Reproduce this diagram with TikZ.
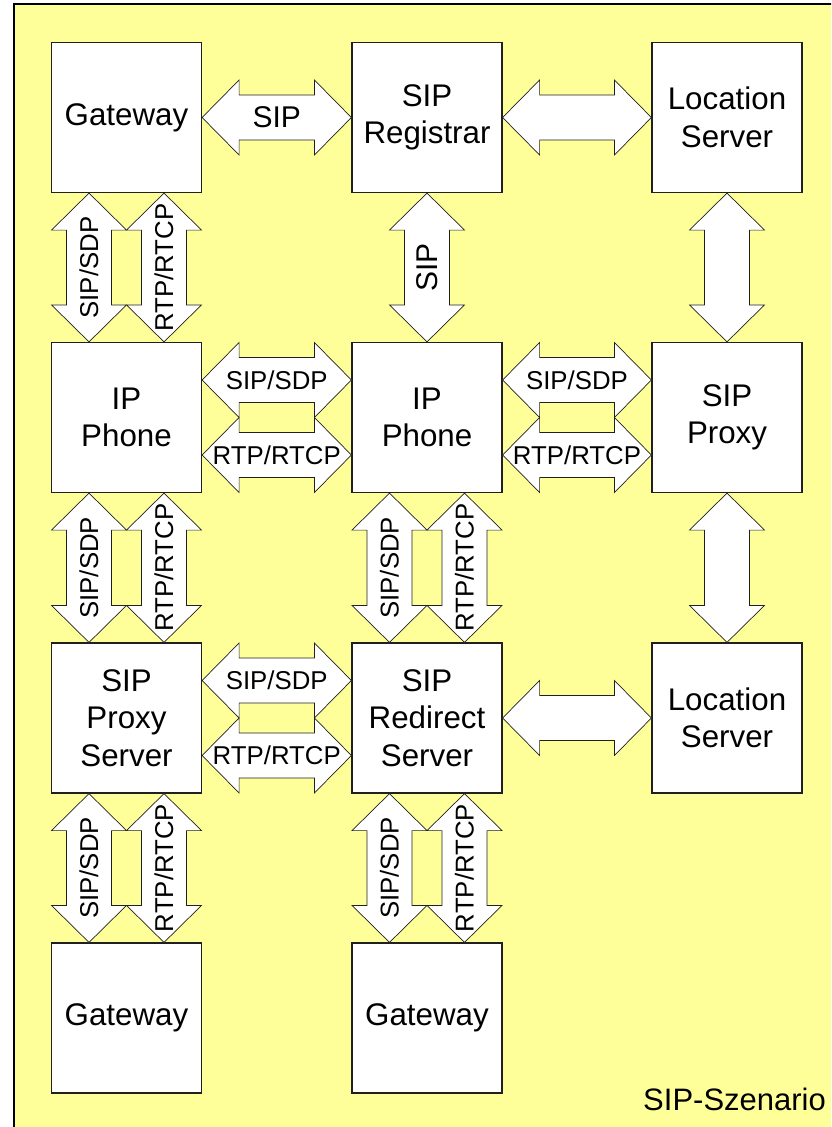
\documentclass[tikz,border=0pt]{standalone}
\usepackage{fontspec}
\setmainfont{Liberation Sans}
\usetikzlibrary{calc}
\definecolor{paper}{HTML}{FFFF99}
\definecolor{edge}{HTML}{202020}

% Block arrow with two heads, left (#1) to right (#2)
\newcommand\harrow[2]{%
  \path[blockarrow] let \p1=#1, \p2=#2 in
    (\x1,\y1) -- (\x1+37pt,\y1+37.5pt) -- (\x1+37pt,\y1+22.5pt)
    -- (\x2-37pt,\y1+22.5pt) -- (\x2-37pt,\y1+37.5pt) -- (\x2,\y1)
    -- (\x2-37pt,\y1-37.5pt) -- (\x2-37pt,\y1-22.5pt)
    -- (\x1+37pt,\y1-22.5pt) -- (\x1+37pt,\y1-37.5pt) -- cycle;}
% Block arrow with two heads, top (#1) to bottom (#2)
\newcommand\varrow[2]{%
  \path[blockarrow] let \p1=#1, \p2=#2 in
    (\x1,\y1) -- (\x1+37.5pt,\y1-37pt) -- (\x1+22.5pt,\y1-37pt)
    -- (\x1+22.5pt,\y2+37pt) -- (\x1+37.5pt,\y2+37pt) -- (\x1,\y2)
    -- (\x1-37.5pt,\y2+37pt) -- (\x1-22.5pt,\y2+37pt)
    -- (\x1-22.5pt,\y1-37pt) -- (\x1-37.5pt,\y1-37pt) -- cycle;}

\begin{document}
\begin{tikzpicture}[x=1pt,y=-1pt,
  box/.style={draw=edge,line width=1.2pt,fill=white,minimum size=150pt,
    inner sep=0pt,align=center,font=\fontsize{31.3}{37.5}\selectfont},
  blockarrow/.style={draw=edge,line width=0.7pt,fill=white,line join=miter},
  biglbl/.style={inner sep=0pt,font=\fontsize{30}{36}\selectfont},
  lbl/.style={inner sep=0pt,font=\fontsize{25.8}{31}\selectfont}]

\useasboundingbox (0,0) rectangle (831,1127);
\clip (0,0) rectangle (831,1127);
\draw[line width=1.5pt,fill=paper] (14,4) rectangle (850,1150);

% components
\node[box] (gw1)   at (126.5,117.5) {Gateway};
\node[box] (reg)   at (427,117.5)   {SIP\\Registrar};
\node[box] (loc1)  at (727,117.5)   {Location\\Server};
\node[box] (ip1)   at (126.5,417.5) {IP\\Phone};
\node[box] (ip2)   at (427,417.5)   {IP\\Phone};
\node[box] (proxy) at (727,417.5)   {SIP\\Proxy};
\node[box] (pxs)   at (126.5,718)   {SIP\\Proxy\\Server};
\node[box] (red)   at (427,718)     {SIP\\Redirect\\Server};
\node[box] (loc2)  at (727,718)     {Location\\Server};
\node[box] (gw2)   at (126.5,1018)  {Gateway};
\node[box] (gw3)   at (427,1018)    {Gateway};

% top row
\harrow{(gw1.east)}{(reg.west)}
\node[biglbl] at ($(gw1.east)!0.5!(reg.west)$) {SIP};
\harrow{(reg.east)}{(loc1.west)}

% row 1 to row 2
\varrow{([xshift=-37.5pt]gw1.south)}{([xshift=-37.5pt]ip1.north)}
\varrow{([xshift=37.5pt]gw1.south)}{([xshift=37.5pt]ip1.north)}
\node[lbl,rotate=90] at ($([xshift=-37.5pt]gw1.south)!0.5!([xshift=-37.5pt]ip1.north)$) {SIP/SDP};
\node[lbl,rotate=90] at ($([xshift=37.5pt]gw1.south)!0.5!([xshift=37.5pt]ip1.north)$) {RTP/RTCP};
\varrow{(reg.south)}{(ip2.north)}
\node[biglbl,rotate=90] at ($(reg.south)!0.5!(ip2.north)$) {SIP};
\varrow{(loc1.south)}{(proxy.north)}

% middle row
\harrow{([yshift=37.5pt]ip1.east)}{([yshift=37.5pt]ip2.west)}
\harrow{([yshift=-37.5pt]ip1.east)}{([yshift=-37.5pt]ip2.west)}
\node[lbl] at ($([yshift=37.5pt]ip1.east)!0.5!([yshift=37.5pt]ip2.west)$) {SIP/SDP};
\node[lbl] at ($([yshift=-37.5pt]ip1.east)!0.5!([yshift=-37.5pt]ip2.west)$) {RTP/RTCP};
\harrow{([yshift=37.5pt]ip2.east)}{([yshift=37.5pt]proxy.west)}
\harrow{([yshift=-37.5pt]ip2.east)}{([yshift=-37.5pt]proxy.west)}
\node[lbl] at ($([yshift=37.5pt]ip2.east)!0.5!([yshift=37.5pt]proxy.west)$) {SIP/SDP};
\node[lbl] at ($([yshift=-37.5pt]ip2.east)!0.5!([yshift=-37.5pt]proxy.west)$) {RTP/RTCP};

% row 2 to row 3
\varrow{([xshift=-37.5pt]ip1.south)}{([xshift=-37.5pt]pxs.north)}
\varrow{([xshift=37.5pt]ip1.south)}{([xshift=37.5pt]pxs.north)}
\node[lbl,rotate=90] at ($([xshift=-37.5pt]ip1.south)!0.5!([xshift=-37.5pt]pxs.north)$) {SIP/SDP};
\node[lbl,rotate=90] at ($([xshift=37.5pt]ip1.south)!0.5!([xshift=37.5pt]pxs.north)$) {RTP/RTCP};
\varrow{([xshift=-37.5pt]ip2.south)}{([xshift=-37.5pt]red.north)}
\varrow{([xshift=37.5pt]ip2.south)}{([xshift=37.5pt]red.north)}
\node[lbl,rotate=90] at ($([xshift=-37.5pt]ip2.south)!0.5!([xshift=-37.5pt]red.north)$) {SIP/SDP};
\node[lbl,rotate=90] at ($([xshift=37.5pt]ip2.south)!0.5!([xshift=37.5pt]red.north)$) {RTP/RTCP};
\varrow{(proxy.south)}{(loc2.north)}

% third row
\harrow{([yshift=37.5pt]pxs.east)}{([yshift=37.5pt]red.west)}
\harrow{([yshift=-37.5pt]pxs.east)}{([yshift=-37.5pt]red.west)}
\node[lbl] at ($([yshift=37.5pt]pxs.east)!0.5!([yshift=37.5pt]red.west)$) {SIP/SDP};
\node[lbl] at ($([yshift=-37.5pt]pxs.east)!0.5!([yshift=-37.5pt]red.west)$) {RTP/RTCP};
\harrow{(red.east)}{(loc2.west)}

% row 3 to row 4
\varrow{([xshift=-37.5pt]pxs.south)}{([xshift=-37.5pt]gw2.north)}
\varrow{([xshift=37.5pt]pxs.south)}{([xshift=37.5pt]gw2.north)}
\node[lbl,rotate=90] at ($([xshift=-37.5pt]pxs.south)!0.5!([xshift=-37.5pt]gw2.north)$) {SIP/SDP};
\node[lbl,rotate=90] at ($([xshift=37.5pt]pxs.south)!0.5!([xshift=37.5pt]gw2.north)$) {RTP/RTCP};
\varrow{([xshift=-37.5pt]red.south)}{([xshift=-37.5pt]gw3.north)}
\varrow{([xshift=37.5pt]red.south)}{([xshift=37.5pt]gw3.north)}
\node[lbl,rotate=90] at ($([xshift=-37.5pt]red.south)!0.5!([xshift=-37.5pt]gw3.north)$) {SIP/SDP};
\node[lbl,rotate=90] at ($([xshift=37.5pt]red.south)!0.5!([xshift=37.5pt]gw3.north)$) {RTP/RTCP};

% caption
\node[inner sep=0pt,anchor=base west,font=\fontsize{31}{37}\selectfont] (title) at (643,1110) {SIP-Szenario};
\end{tikzpicture}
\end{document}
